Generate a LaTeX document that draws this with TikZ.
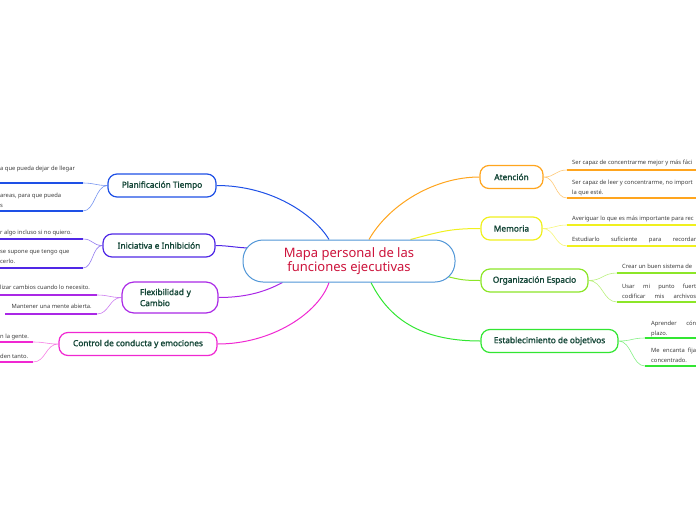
\documentclass[tikz,border=0pt]{standalone}
\usepackage{fontspec}
\setmainfont{Noto Sans}
\newfontfamily\topicfont{Noto Sans}[FakeBold=1.6]
\usetikzlibrary{calc,positioning,backgrounds}
\definecolor{mapblue}{RGB}{80,150,215}
\definecolor{mapred}{RGB}{205,20,60}
\definecolor{labelgreen}{RGB}{20,70,55}
\definecolor{subgray}{RGB}{60,60,60}
\definecolor{cplan}{RGB}{30,80,230}
\definecolor{cinic}{RGB}{80,40,230}
\definecolor{cflex}{RGB}{170,40,230}
\definecolor{cctrl}{RGB}{240,40,210}
\definecolor{caten}{RGB}{255,165,30}
\definecolor{cmemo}{RGB}{240,240,30}
\definecolor{corga}{RGB}{140,230,40}
\definecolor{cesta}{RGB}{50,230,50}

\begin{document}
\begin{tikzpicture}[x=1pt, y=-1pt,
  topic/.style={draw, fill=white, line width=1.2pt, rounded corners=9pt, minimum height=23pt,
    inner sep=2pt, font=\topicfont\fontsize{8.3}{11}\selectfont, text=labelgreen},
  sub/.style={inner sep=0pt, font=\fontsize{5.8}{10}\selectfont, text=subgray, align=left},
  link/.style={line width=1pt},
  twig/.style={line width=0.6pt},
  uline/.style={line width=1.8pt}]
  \useasboundingbox (0,0) rectangle (696,520);
  \clip (0,0) rectangle (696,520);

  % central topic
  \node[draw=mapblue, fill=white, line width=1pt, rounded corners=20pt, minimum width=212pt,
    minimum height=42pt, text=mapred, font=\fontsize{13}{13.5}\selectfont, align=center]
    (map) at (349,261) {Mapa personal de las\\funciones ejecutivas};

  % main topics
  \node[topic, draw=cplan, minimum width=108pt] (plan) at (162,185.5) {Planificación Tiempo};
  \node[topic, draw=cinic, minimum width=112pt] (inic) at (159,245.5) {Iniciativa e Inhibición};
  \node[topic, draw=cflex, minimum width=96pt, minimum height=31pt, align=left, rounded corners=12pt,
    text width=60pt] (flex) at (170,297.5) {Flexibilidad y\\Cambio};
  \node[topic, draw=cctrl, minimum width=158pt] (ctrl) at (138,344) {Control de conducta y emociones};
  \node[topic, draw=caten, minimum width=63pt] (aten) at (511.5,177) {Atención};
  \node[topic, draw=cmemo, minimum width=61pt] (memo) at (511.5,228.5) {Memoria};
  \node[topic, draw=corga, minimum width=107pt] (orga) at (534.5,280.5) {Organización Espacio};
  \node[topic, draw=cesta, minimum width=137pt] (esta) at (549.5,341) {Establecimiento de objetivos};

  % subtopic texts
  \node[sub, anchor=north west] (tP1) at (0,165.5) {a que pueda dejar de llegar};
  \node[sub, anchor=north west] (tP2) at (0,192.5) {areas, para que pueda\\s};
  \node[sub, anchor=north west] (tI1) at (0,229.5) {r algo incluso si no quiero.};
  \node[sub, anchor=north west] (tI2) at (0,249.5) {se supone que tengo que\\cerlo.};
  \node[sub, anchor=north west] (tF1) at (0,284.5) {lizar cambios cuando lo necesito.};
  \node[sub, anchor=north east] (tF2) at (92,303.5) {Mantener una mente abierta.};
  \node[sub, anchor=north west] (tC1) at (0,333.5) {n la gente.};
  \node[sub, anchor=north west] (tC2) at (0,353.5) {den tanto.};
  \node[sub, anchor=north west] (tA1) at (572,159.5) {Ser capaz de concentrarme mejor y más fáci};
  \node[sub, anchor=north west] (tA2) at (572,179.5) {Ser capaz de leer y concentrarme, no import\\la que esté.};
  \node[sub, anchor=north west] (tM1) at (572,215.5) {Averiguar lo que es más importante para rec};
  \node[sub, anchor=north west] (tM2) at (572,236.5) {\makebox[124pt][s]{Estudiarlo suficiente para recordar}};
  \node[sub, anchor=north west] (tO1) at (622,263.5) {Crear un buen sistema de};
  \node[sub, anchor=north west] (tO2) at (622,283.5)
    {\makebox[74pt][s]{Usar mi punto fuert}\\\makebox[74pt][s]{codificar mis archivos}};
  \node[sub, anchor=north west] (tE1) at (651,320.5) {\makebox[45pt][s]{Aprender cón}\\plazo.};
  \node[sub, anchor=north west] (tE2) at (651,347.5) {\makebox[45pt][s]{Me encanta fija}\\concentrado.};

  % underline ends
  \coordinate (uP1) at (83,183); \coordinate (uP2) at (83,211);
  \coordinate (uI1) at (83,239); \coordinate (uI2) at (83,268);
  \coordinate (uF1) at (97,295); \coordinate (uF2) at (97,314);
  \coordinate (uC1) at (33,342); \coordinate (uC2) at (33,362);
  \coordinate (uA1) at (567,170); \coordinate (uA2) at (567,198);
  \coordinate (uM1) at (567,225); \coordinate (uM2) at (567,246);
  \coordinate (uO1) at (617,273); \coordinate (uO2) at (617,302);
  \coordinate (uE1) at (645,338); \coordinate (uE2) at (645,366);

  \draw[uline, cplan] (0,183) -- (uP1) (0,211) -- (uP2);
  \draw[uline, cinic] (0,239) -- (uI1) (0,268) -- (uI2);
  \draw[uline, cflex] (0,295) -- (uF1) (5,314) -- (uF2);
  \draw[uline, cctrl] (0,342) -- (uC1) (0,362) -- (uC2);
  \draw[uline, caten] (uA1) -- (696,170) (uA2) -- (696,198);
  \draw[uline, cmemo] (uM1) -- (696,225) (uM2) -- (696,246);
  \draw[uline, corga] (uO1) -- (696,273) (uO2) -- (696,302);
  \draw[uline, cesta] (uE1) -- (696,338) (uE2) -- (696,366);

  \begin{scope}[on background layer]
    % main links
    \draw[link, cplan] (plan.east) .. controls +(55,0) and +(-15,-25) .. ($(map.north)+(-20,0)$);
    \draw[link, cinic] (inic.east) .. controls +(12,0) and +(-12,0) .. ($(map.west)+(8,-13)$);
    \draw[link, cflex] (flex.east) .. controls +(30,0) and +(-15,8) .. ($(map.south west)+(40,0)$);
    \draw[link, cctrl] (ctrl.east) .. controls +(55,0) and +(-10,30) .. ($(map.south)+(-20,0)$);
    \draw[link, caten] ($(map.north)+(20,0)$) .. controls +(20,-35) and +(-45,0) .. (aten.west);
    \draw[link, cmemo] ($(map.north east)+(-45,0)$) .. controls +(30,-8) and +(-30,0) .. (memo.west);
    \draw[link, corga] ($(map.east)+(-10,15)$) .. controls +(15,4) and +(-15,0) .. (orga.west);
    \draw[link, cesta] ($(map.south)+(22,0)$) .. controls +(20,40) and +(-55,0) .. (esta.west);
    % twigs
    \draw[twig, cplan!60] (plan.west) .. controls +(-12,0) and +(12,0) .. (uP1)
      (plan.west) .. controls +(-12,0) and +(12,0) .. (uP2);
    \draw[twig, cinic!60] (inic.west) .. controls +(-10,0) and +(10,0) .. (uI1)
      (inic.west) .. controls +(-10,0) and +(10,0) .. (uI2);
    \draw[twig, cflex!60] (flex.west) .. controls +(-12,0) and +(12,0) .. (uF1)
      (flex.west) .. controls +(-12,0) and +(12,0) .. (uF2);
    \draw[twig, cctrl!60] (ctrl.west) .. controls +(-13,0) and +(13,0) .. (uC1)
      (ctrl.west) .. controls +(-13,0) and +(13,0) .. (uC2);
    \draw[twig, caten!60] (aten.east) .. controls +(12,0) and +(-12,0) .. (uA1)
      (aten.east) .. controls +(12,0) and +(-12,0) .. (uA2);
    \draw[twig, cmemo!60] (memo.east) .. controls +(12,0) and +(-12,0) .. (uM1)
      (memo.east) .. controls +(12,0) and +(-12,0) .. (uM2);
    \draw[twig, corga!60] (orga.east) .. controls +(14,0) and +(-14,0) .. (uO1)
      (orga.east) .. controls +(14,0) and +(-14,0) .. (uO2);
    \draw[twig, cesta!60] (esta.east) .. controls +(13,0) and +(-13,0) .. (uE1)
      (esta.east) .. controls +(13,0) and +(-13,0) .. (uE2);
  \end{scope}
\end{tikzpicture}
\end{document}
